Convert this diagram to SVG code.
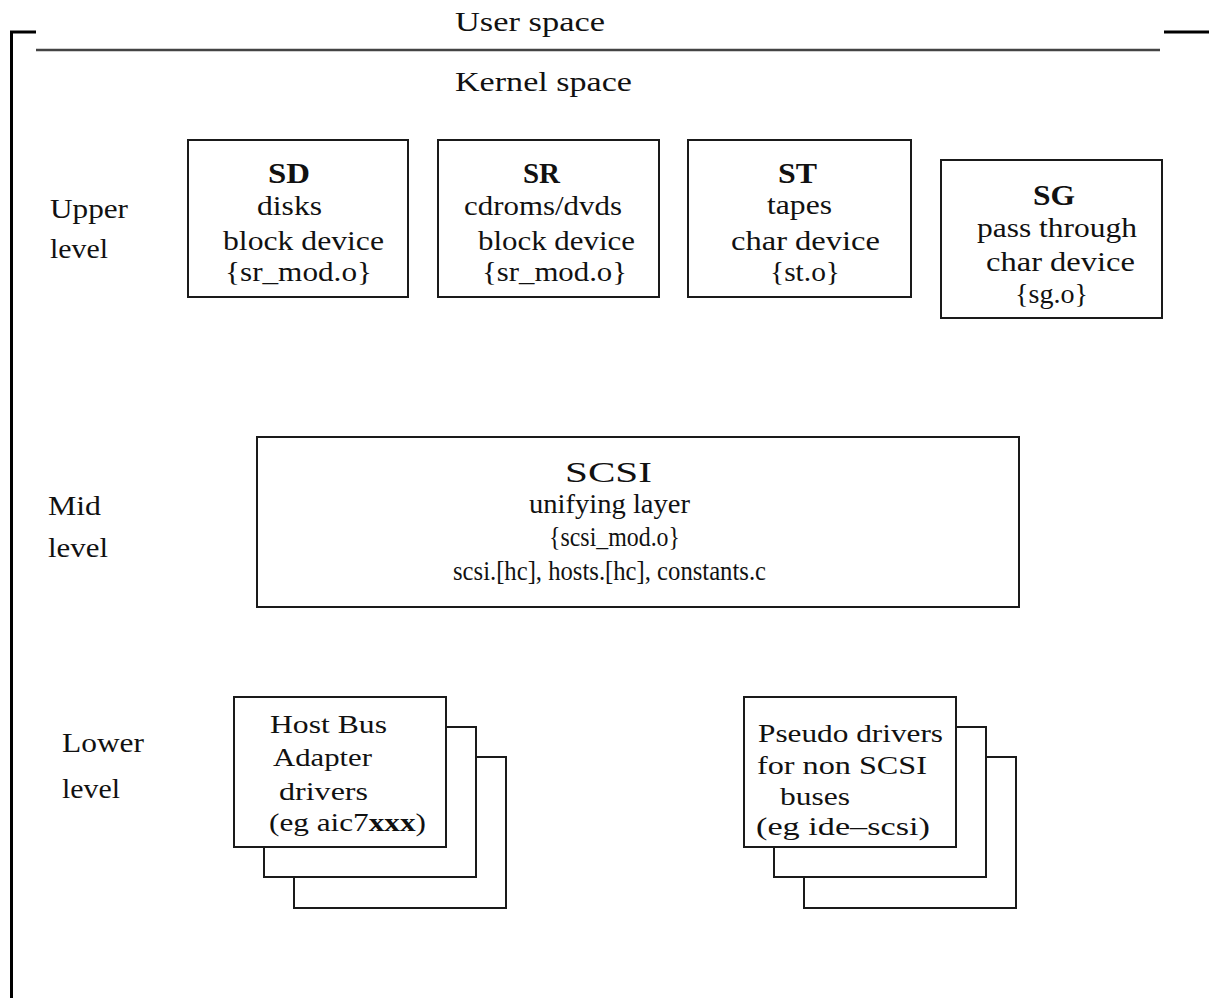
<svg xmlns="http://www.w3.org/2000/svg" width="1209" height="998" viewBox="0 0 1209 998">
  <style>
    text { font-family: "Liberation Serif", "Times New Roman", serif; font-size: 27px; fill: #111; }
    .title { font-weight: bold; font-size: 29px; }
    .big { font-size: 30px; }
    .card { font-size: 25px; }
    .box { fill: #fff; stroke: #1a1a1a; stroke-width: 2; }
    .frame { stroke: #000; stroke-width: 3; fill: none; }
  </style>

  <rect width="1209" height="998" fill="#fff"/>

  <!-- outer frame and user/kernel divider -->
  <g id="frame">
    <path class="frame" d="M 11.5 998 L 11.5 32 L 36 32"/>
    <line class="frame" x1="1164" y1="32" x2="1209" y2="32"/>
    <line x1="36" y1="50" x2="1160" y2="50" stroke="#444" stroke-width="2.5"/>
    <text x="455" y="31" textLength="150" lengthAdjust="spacingAndGlyphs">User space</text>
    <text x="455" y="91" textLength="177" lengthAdjust="spacingAndGlyphs">Kernel space</text>
  </g>

  <!-- level labels -->
  <g id="levels">
    <text x="50" y="218" textLength="78" lengthAdjust="spacingAndGlyphs">Upper</text>
    <text x="50" y="258" textLength="58" lengthAdjust="spacingAndGlyphs">level</text>
    <text x="48" y="515" textLength="53" lengthAdjust="spacingAndGlyphs">Mid</text>
    <text x="48" y="557" textLength="60" lengthAdjust="spacingAndGlyphs">level</text>
    <text x="62" y="752" textLength="82" lengthAdjust="spacingAndGlyphs">Lower</text>
    <text x="62" y="798" textLength="58" lengthAdjust="spacingAndGlyphs">level</text>
  </g>

  <!-- upper level drivers -->
  <g id="sd">
    <rect class="box" x="188" y="140" width="220" height="157"/>
    <text class="title" x="268" y="183" textLength="42" lengthAdjust="spacingAndGlyphs">SD</text>
    <text x="257" y="215" textLength="65" lengthAdjust="spacingAndGlyphs">disks</text>
    <text x="223" y="250" textLength="161" lengthAdjust="spacingAndGlyphs">block device</text>
    <text x="225" y="281" textLength="147" lengthAdjust="spacingAndGlyphs">{sr_mod.o}</text>
  </g>
  <g id="sr">
    <rect class="box" x="438" y="140" width="221" height="157"/>
    <text class="title" x="523" y="183" textLength="37" lengthAdjust="spacingAndGlyphs">SR</text>
    <text x="464" y="215" textLength="158" lengthAdjust="spacingAndGlyphs">cdroms/dvds</text>
    <text x="478" y="250" textLength="157" lengthAdjust="spacingAndGlyphs">block device</text>
    <text x="482" y="281" textLength="145" lengthAdjust="spacingAndGlyphs">{sr_mod.o}</text>
  </g>
  <g id="st">
    <rect class="box" x="688" y="140" width="223" height="157"/>
    <text class="title" x="778" y="183" textLength="39" lengthAdjust="spacingAndGlyphs">ST</text>
    <text x="767" y="214" textLength="65" lengthAdjust="spacingAndGlyphs">tapes</text>
    <text x="731" y="250" textLength="149" lengthAdjust="spacingAndGlyphs">char device</text>
    <text x="770" y="281" textLength="70" lengthAdjust="spacingAndGlyphs">{st.o}</text>
  </g>
  <g id="sg">
    <rect class="box" x="941" y="160" width="221" height="158"/>
    <text class="title" x="1033" y="205" textLength="42" lengthAdjust="spacingAndGlyphs">SG</text>
    <text x="977" y="237" textLength="160" lengthAdjust="spacingAndGlyphs">pass through</text>
    <text x="986" y="271" textLength="149" lengthAdjust="spacingAndGlyphs">char device</text>
    <text x="1015" y="303" textLength="73" lengthAdjust="spacingAndGlyphs">{sg.o}</text>
  </g>

  <!-- mid level -->
  <g id="scsi">
    <rect class="box" x="257" y="437" width="762" height="170"/>
    <text class="big" x="565" y="482" textLength="87" lengthAdjust="spacingAndGlyphs">SCSI</text>
    <text x="529" y="513" textLength="161" lengthAdjust="spacingAndGlyphs">unifying layer</text>
    <text x="549" y="546" textLength="131" lengthAdjust="spacingAndGlyphs">{scsi_mod.o}</text>
    <text x="453" y="580" textLength="313" lengthAdjust="spacingAndGlyphs">scsi.[hc], hosts.[hc], constants.c</text>
  </g>

  <!-- lower level: stacked driver cards -->
  <g id="hba">
    <rect class="box" x="294" y="757" width="212" height="151"/>
    <rect class="box" x="264" y="727" width="212" height="150"/>
    <rect class="box" x="234" y="697" width="212" height="150"/>
    <text class="card" x="270" y="733" textLength="117" lengthAdjust="spacingAndGlyphs">Host Bus</text>
    <text class="card" x="273" y="766" textLength="99" lengthAdjust="spacingAndGlyphs">Adapter</text>
    <text class="card" x="279" y="800" textLength="89" lengthAdjust="spacingAndGlyphs">drivers</text>
    <text class="card" x="269" y="831" textLength="157" lengthAdjust="spacingAndGlyphs">(eg  aic7<tspan font-weight="bold">xxx</tspan>)</text>
  </g>
  <g id="pseudo">
    <rect class="box" x="804" y="757" width="212" height="151"/>
    <rect class="box" x="774" y="727" width="212" height="150"/>
    <rect class="box" x="744" y="697" width="212" height="150"/>
    <text class="card" x="758" y="742" textLength="185" lengthAdjust="spacingAndGlyphs">Pseudo drivers</text>
    <text class="card" x="757" y="774" textLength="170" lengthAdjust="spacingAndGlyphs">for non SCSI</text>
    <text class="card" x="780" y="805" textLength="70" lengthAdjust="spacingAndGlyphs">buses</text>
    <text class="card" x="756" y="835" textLength="174" lengthAdjust="spacingAndGlyphs">(eg  ide–scsi)</text>
  </g>

  <!-- no connectors between the layers -->
  <g id="connectors"/>
</svg>
